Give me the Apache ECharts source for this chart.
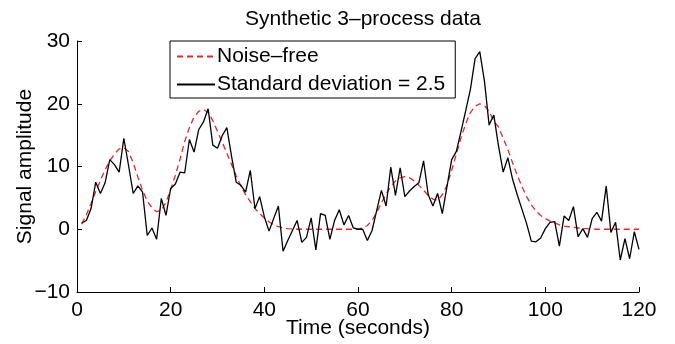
<!DOCTYPE html>
<html>
<head>
<meta charset="utf-8">
<script src="https://cdn.jsdelivr.net/npm/echarts@6/dist/echarts.min.js"></script>
<style>
html,body{margin:0;padding:0;background:#fff;}
#chart{width:675px;height:344px;}
</style>
</head>
<body>
<div id="chart"></div>
<script>
const titleText = 'Synthetic 3\u2013process data';
const xName = 'Time (seconds)';
const yName = 'Signal amplitude';
const seriesNames = ['Noise\u2013free', 'Standard deviation = 2.5'];
const xTicks = [0, 20, 40, 60, 80, 100, 120];
const yTicks = [-10, 0, 10, 20, 30];
const startTime = 1; // first sample (seconds), one sample per second

// Noise-free signal, t = 1..120
const noiseFree = [
  0.8, 2.3, 4.1, 6.0, 7.8, 9.5, 10.9, 12.0, 12.8, 13.0,
  12.4, 10.6, 8.3, 6.2, 4.5, 3.4, 2.8, 3.0, 4.3, 6.3,
  8.6, 11.2, 14.0, 16.2, 17.9, 18.8, 19.1, 18.6, 17.3, 15.6,
  13.9, 12.1, 10.3, 8.5, 6.9, 5.5, 4.4, 3.3, 2.5, 1.8,
  1.2, 0.7, 0.4, 0.2, 0.1, 0.05, 0, 0, 0, 0,
  0, 0, 0, 0, 0, 0, 0, 0, 0, 0,
  0.2, 0.6, 1.4, 2.7, 4.2, 5.6, 6.8, 7.7, 8.2, 8.4,
  8.2, 7.7, 7.0, 6.2, 5.4, 4.8, 4.6, 5.5, 7.0, 9.4,
  12.0, 14.6, 16.8, 18.6, 19.6, 20.0, 19.7, 18.8, 17.2, 16.3,
  14.5, 12.7, 10.6, 8.6, 6.8, 5.2, 3.9, 2.9, 2.2, 1.7,
  1.3, 1.0, 0.7, 0.5, 0.4, 0.3, 0.2, 0.1, 0.1, 0.05,
  0, 0, 0, 0, 0, 0, 0, 0, 0, 0
];

// Noisy signal (std 2.5), t = 1..120
const noisy = [
  1.0, 1.4, 3.3, 7.5, 5.7, 7.4, 11.1, 10.3, 9.1, 14.5,
  10.2, 5.7, 6.9, 5.9, -1.0, 0.2, -1.6, 4.9, 2.2, 6.5,
  7.2, 9.1, 9.0, 14.3, 12.3, 15.9, 17.1, 19.2, 13.4, 12.9,
  14.9, 16.2, 11.6, 7.5, 7.0, 5.9, 9.4, 3.3, 5.2, 2.0,
  -0.3, 1.7, 3.7, -3.5, -1.8, -0.2, 1.4, -2.1, -1.3, 1.8,
  -3.3, 2.5, 2.2, -1.6, 1.4, 3.1, 0.7, 2.2, 0.2, 0.0,
  0.0, -1.8, -0.2, 3.0, 6.2, 3.7, 9.9, 5.4, 9.8, 5.2,
  6.1, 6.8, 7.4, 10.9, 5.5, 3.7, 5.7, 2.5, 6.8, 11.1,
  12.4, 15.6, 18.9, 22.3, 27.2, 28.3, 23.6, 16.6, 18.2, 13.3,
  9.1, 11.4, 8.0, 5.5, 3.2, 0.9, -1.9, -2.0, -1.4, 0.1,
  1.1, 1.2, -2.7, 2.1, 1.4, 3.6, -1.2, 0.1, -1.3, 1.7,
  2.7, 1.3, 6.9, -0.5, 1.1, -4.9, -1.5, -4.7, -0.4, -3.2
];

const pairs = arr => arr.map((v, i) => [startTime + i, v]);
const fmtNum = v => (v < 0 ? '\u2212' + Math.abs(v) : String(v));

const FONT = 'Liberation Sans, Arial, Helvetica, sans-serif';
const FS = 21;
const chart = echarts.init(document.getElementById('chart'), null, {renderer: 'canvas'});
chart.setOption({
  animation: false,
  backgroundColor: '#fff',
  title: {
    text: titleText,
    left: 358, top: 4,
    textAlign: 'center',
    textStyle: {fontFamily: FONT, fontSize: FS, fontWeight: 'normal', color: '#000'}
  },
  legend: {
    orient: 'vertical',
    left: 170, top: 41,
    padding: [5, 10, 3, 6],
    itemGap: 7,
    itemWidth: 38, itemHeight: 14,
    borderColor: '#000', borderWidth: 1,
    backgroundColor: '#fff',
    itemStyle: {opacity: 0},
    textStyle: {fontFamily: FONT, fontSize: FS, color: '#000', padding: [0, 0, 0, -3]},
    data: seriesNames
  },
  grid: {left: 77, right: 36, top: 41, bottom: 52, containLabel: false, outerBoundsMode: 'none'},
  xAxis: {
    type: 'value',
    min: xTicks[0], max: xTicks[xTicks.length - 1],
    interval: xTicks[1] - xTicks[0],
    name: xName, nameLocation: 'middle', nameGap: 26, nameMoveOverlap: false,
    nameTextStyle: {fontFamily: FONT, fontSize: FS, color: '#000'},
    axisLine: {show: true, onZero: false, lineStyle: {color: '#000', width: 1}},
    axisTick: {show: true, inside: true, length: 5, lineStyle: {color: '#000'}},
    axisLabel: {fontFamily: FONT, fontSize: FS, color: '#000', margin: 8, formatter: fmtNum},
    splitLine: {show: false}
  },
  yAxis: {
    type: 'value',
    min: yTicks[0], max: yTicks[yTicks.length - 1],
    interval: yTicks[1] - yTicks[0],
    name: yName, nameLocation: 'middle', nameGap: 41, nameMoveOverlap: false,
    nameTextStyle: {fontFamily: FONT, fontSize: FS, color: '#000'},
    axisLine: {show: true, onZero: false, lineStyle: {color: '#000', width: 1}},
    axisTick: {show: true, inside: true, length: 5, lineStyle: {color: '#000'}},
    axisLabel: {fontFamily: FONT, fontSize: FS, color: '#000', margin: 7, formatter: fmtNum},
    splitLine: {show: false}
  },
  series: [
    {
      name: seriesNames[0], type: 'line', data: pairs(noiseFree),
      symbol: 'none', smooth: false,
      lineStyle: {color: '#e8262b', width: 1.3, type: [6, 4]},
      itemStyle: {color: '#e8262b'},
      z: 2
    },
    {
      name: seriesNames[1], type: 'line', data: pairs(noisy),
      symbol: 'none', smooth: false,
      lineStyle: {color: '#000', width: 1.3},
      itemStyle: {color: '#000'},
      z: 3
    }
  ]
});
</script>
</body>
</html>
